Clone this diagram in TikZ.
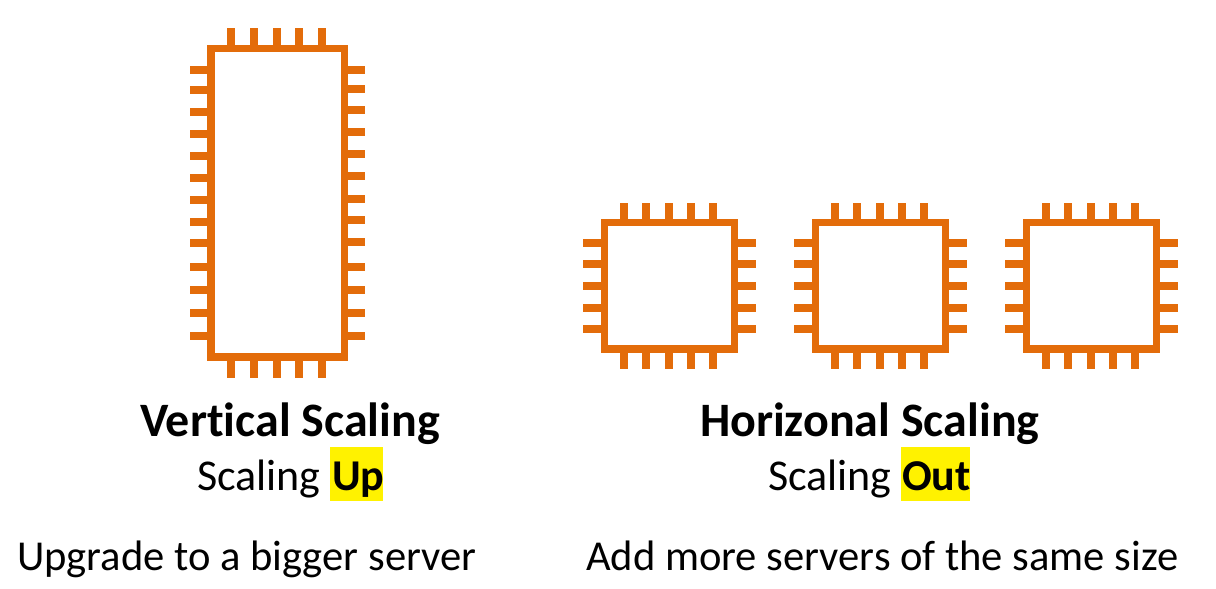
\documentclass[tikz,border=0pt]{standalone}
\usepackage{fontspec}
\setmainfont[Ligatures=NoCommon]{Carlito}
\definecolor{chiporange}{HTML}{E36C0A}
\definecolor{hl}{HTML}{FFF200}
\tikzset{
  chipbody/.style={draw=chiporange,line width=7.5pt,fill=white},
  pin/.style={draw=chiporange,line width=8.5pt},
  txt/.style={anchor=base west,inner sep=0pt,outer sep=0pt,text=black},
  title/.style={txt,font=\fontsize{48}{48}\selectfont\bfseries},
  body/.style={txt,font=\fontsize{42.6}{42.6}\selectfont},
  sub/.style={txt,font=\fontsize{44}{44}\selectfont},
  mark box/.style={fill=hl,draw=none}
}
\newcommand{\smallchip}[1]{%
  \begin{scope}[xshift=#1pt]
    \foreach \x in {624,646,669,691,713}{\draw[pin] (\x,203) -- (\x,369);}
    \foreach \y in {243,264,286,308,329}{\draw[pin] (583,\y) -- (756,\y);}
    \draw[chipbody] (604.5,222.5) rectangle (734.5,349);
  \end{scope}}
\begin{document}
\begin{tikzpicture}[x=1pt,y=-1pt]
\useasboundingbox (0,0) rectangle (1216,589);
\fill[white] (0,0) rectangle (1216,589);
% tall chip
\foreach \x in {231,254,277,299,322}{\draw[pin] (\x,28) -- (\x,378);}
\foreach \y in {70,90,112,134,156,178,200,222,243,267,290,313,336}{\draw[pin] (190,\y) -- (270,\y);}
\foreach \y in {70,89,110,132,154,176,199,220,242,267,290,313,336}{\draw[pin] (270,\y) -- (365,\y);}
\draw[chipbody] (211,48.5) rectangle (344.5,357);
% small chips
\smallchip{0}
\smallchip{211}
\smallchip{422}
% highlights
\fill[mark box] (330,447) rectangle (383,501);
\fill[mark box] (901,447) rectangle (970,501);
% text
\node[title] (vt) at (140,436) {Vertical Scaling};
\node[title] (ht) at (700,436) {Horizonal Scaling};
\node[sub] (vs) at (197,490) {Scaling};
\node[sub] (vu) at (332,490) {\textbf{Up}};
\node[sub] (hs) at (768,490) {Scaling};
\node[sub] (ho) at (902,490) {\textbf{Out}};
\node[body] (vd) at (17,570) {Upgrade to a bigger server};
\node[body] (hd) at (586,570) {Add more servers of the same size};
\end{tikzpicture}
\end{document}
